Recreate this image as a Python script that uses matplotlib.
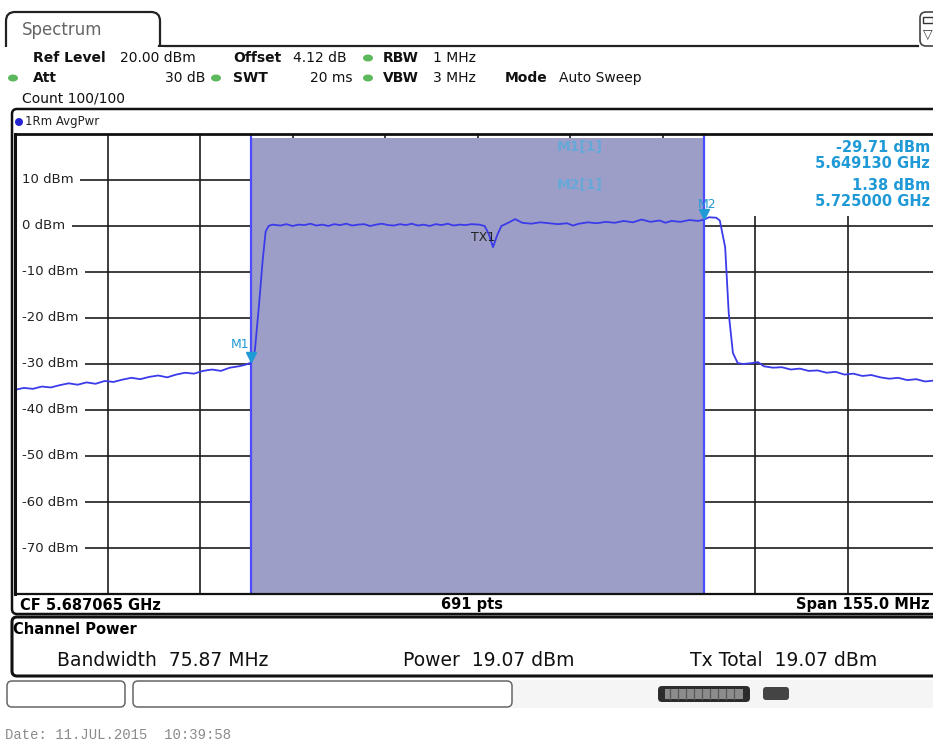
import matplotlib
matplotlib.use("Agg")
import matplotlib.pyplot as plt
import matplotlib.transforms as mtransforms
from matplotlib.patches import FancyBboxPatch, Rectangle, Ellipse
import numpy as np

# ---------------- data ----------------
CF_GHZ = 5.687065
SPAN_MHZ = 155.0
REF_LEVEL = 20.0
BOTTOM_LEVEL = -80.0
level_ticks = [10, 0, -10, -20, -30, -40, -50, -60, -70]
level_labels = ["10 dBm", "0 dBm", "-10 dBm", "-20 dBm", "-30 dBm",
                "-40 dBm", "-50 dBm", "-60 dBm", "-70 dBm"]

# trace: offset from CF in MHz, level in dBm
trace_offset_mhz = [
    -77.5, -76.0, -74.5, -73.0, -71.5, -70.0, -68.5, -67.0, -65.5, -64.0,
    -62.5, -61.0, -59.5, -58.0, -56.5, -55.0, -53.5, -52.0, -50.5, -49.0,
    -47.5, -46.0, -44.5, -43.0, -41.5, -40.0, -39.0, -37.94,
    -37.3, -36.6, -36.0, -35.5, -35.0, -34.4,
    -33.0, -32.0, -31.0, -30.0, -29.0, -28.0, -27.0, -26.0, -25.0, -24.0,
    -23.0, -22.0, -21.0, -20.0, -19.0, -18.0, -17.0, -16.0, -15.0, -14.0,
    -13.0, -12.0, -11.0, -10.0, -9.0, -8.0, -7.0, -6.0, -5.0, -4.0,
    -3.0, -2.0, -1.0, 0.3, 1.2, 1.9, 2.6, 3.3, 4.0, 5.0, 6.3,
    7.5, 9.0, 10.5, 12.0, 13.5, 15.0, 16.0, 17.0, 18.5, 20.0,
    21.5, 23.0, 24.5, 26.0, 27.5, 29.0, 30.5, 31.5, 32.5, 34.0,
    35.5, 37.0, 37.94, 38.8, 40.0, 40.6, 41.5, 42.1, 42.8, 43.6,
    44.5, 46.0, 47.0, 48.0, 49.5, 51.0, 52.5, 54.0, 55.5, 57.0,
    58.5, 60.0, 61.5, 63.0, 64.5, 66.0, 67.5, 69.0, 70.5, 72.0,
    73.5, 75.0, 76.5, 77.5]
trace_dbm = [
    -35.6, -35.2, -35.4, -34.9, -35.1, -34.6, -34.2, -34.5, -34.0, -34.3,
    -33.7, -33.9, -33.4, -33.0, -33.3, -32.8, -32.5, -32.9, -32.3, -31.9,
    -32.1, -31.5, -31.2, -31.5, -30.8, -30.5, -30.2, -29.71,
    -27.0, -17.0, -7.5, -1.2, 0.0, 0.3,
    0.1, 0.4, 0.0, 0.3, 0.2, 0.5, 0.1, 0.3, 0.0, 0.4,
    0.2, 0.5, 0.1, 0.3, 0.4, 0.0, 0.3, 0.5, 0.2, 0.1,
    0.4, 0.2, 0.5, 0.1, 0.3, 0.0, 0.4, 0.2, 0.5, 0.1,
    0.3, 0.2, 0.4, 0.3, 0.0, -1.8, -4.6, -2.0, 0.0, 0.6, 1.5,
    0.7, 0.5, 0.8, 0.6, 0.4, 0.6, 0.1, 0.5, 0.8, 0.6,
    0.9, 0.7, 1.1, 0.8, 1.4, 0.9, 1.2, 0.7, 1.1, 0.9,
    1.3, 1.1, 1.38, 1.9, 1.8, 1.2, -4.6, -19.0, -27.6, -29.8,
    -30.0, -29.8, -29.6, -30.5, -30.8, -30.7, -31.2, -31.0, -31.5, -31.4,
    -31.9, -31.7, -32.3, -32.1, -32.6, -32.4, -32.9, -33.2, -33.0, -33.5,
    -33.3, -33.8, -33.6, -34.0]

marker_names = ["M1", "M2"]
marker_freq_ghz = [5.649130, 5.725000]
marker_level_dbm = [-29.71, 1.38]
marker_texts = ["-29.71 dBm", "5.649130 GHz", "1.38 dBm", "5.725000 GHz"]
chan_bw_mhz = 75.87

header_row1 = [("Ref Level", True), ("20.00 dBm", False), ("Offset", True),
               ("4.12 dB", False), ("RBW", True), ("1 MHz", False)]
header_row2 = [("Att", True), ("30 dB", False), ("SWT", True), ("20 ms", False),
               ("VBW", True), ("3 MHz", False), ("Mode", True), ("Auto Sweep", False)]
channel_results = ["Bandwidth  75.87 MHz", "Power  19.07 dBm", "Tx Total  19.07 dBm"]

# ---------------- style ----------------
W, H = 933, 743
SHADE = "#9c9ec8"
TRACE = "#3b3bea"
EDGE = "#4b4bff"
CYAN = "#1f9ad6"
GRID = "#1c1c1c"
GREEN = "#5cb85c"

fig = plt.figure(figsize=(W / 100, H / 100), dpi=100)
fig.patch.set_facecolor("white")

def pix_axes(z):
    a = fig.add_axes([0, 0, 1, 1], zorder=z)
    a.set_xlim(0, W)
    a.set_ylim(H, 0)
    a.axis("off")
    a.patch.set_alpha(0)
    return a

bg = pix_axes(0)
fg = pix_axes(3)

# ----- spectrum axes -----
PL, PT, PB, PW = 15, 134, 594, 925
ax = fig.add_axes([PL / W, (H - PB) / H, PW / W, (PB - PT) / H], zorder=1)
f0 = CF_GHZ - SPAN_MHZ / 2000
f1 = CF_GHZ + SPAN_MHZ / 2000
ax.set_xlim(f0, f1)
ax.set_ylim(BOTTOM_LEVEL, REF_LEVEL)
ax.set_xticks([])
ax.set_yticks([])
for s in ["left", "top", "bottom"]:
    ax.spines[s].set_color("#111111")
    ax.spines[s].set_zorder(10)
ax.spines["left"].set_linewidth(2.2)
ax.spines["top"].set_linewidth(2.0)
ax.spines["bottom"].set_linewidth(1.6)
ax.spines["right"].set_visible(False)

# grid
for i in range(1, 10):
    ax.axvline(f0 + i * SPAN_MHZ / 10 / 1000, color=GRID, lw=1.2, zorder=1)
for lv in level_ticks:
    ax.axhline(lv, color=GRID, lw=1.2, zorder=1)

# channel shading
ch_lo = CF_GHZ - chan_bw_mhz / 2000
ch_hi = CF_GHZ + chan_bw_mhz / 2000
ax.axvspan(ch_lo, ch_hi, ymin=0, ymax=(19.1 - BOTTOM_LEVEL) / (REF_LEVEL - BOTTOM_LEVEL),
           color=SHADE, lw=0, zorder=2)
ax.axvline(ch_lo, color=EDGE, lw=1.6, zorder=3)
ax.axvline(ch_hi, color=EDGE, lw=1.6, zorder=3)

# marker info area (white)
ax.add_patch(Rectangle((ch_hi, 2.2), f1 - ch_hi, REF_LEVEL - 2.2, facecolor="white",
                       edgecolor="none", zorder=2.5))

# level labels
for lv, lab in zip(level_ticks, level_labels):
    ax.annotate(lab, xy=(f0, lv), xytext=(5, 0), textcoords="offset points",
                va="center", ha="left", fontsize=9.5, color="#222222", zorder=6,
                bbox=dict(boxstyle="square,pad=0.5", fc="white", ec="none"))

# trace
tf = [CF_GHZ + o / 1000 for o in trace_offset_mhz]
ax.plot(tf, trace_dbm, color=TRACE, lw=1.3, zorder=4)

# markers
up = ax.transData + mtransforms.ScaledTranslation(0, 4 / 72, fig.dpi_scale_trans)
for name, mf, ml, off in zip(marker_names, marker_freq_ghz, marker_level_dbm,
                             [(-8, 13), (2, 11)]):
    ax.plot([mf], [ml], marker="v", ms=7, color=CYAN, transform=up, zorder=5)
    ax.annotate(name, xy=(mf, ml), xytext=off, textcoords="offset points",
                ha="center", va="center", fontsize=9, color=CYAN, zorder=5)

ax.annotate("TX1", xy=(CF_GHZ + 0.9 / 1000, -2.4), ha="center", va="center",
            fontsize=9, color="#222222", zorder=5)

# ----- frames / header (pixel coords) -----
# tab
bg.add_patch(FancyBboxPatch((6, 12), 154, 44, boxstyle="round,pad=0,rounding_size=9",
                            fc="white", ec="#222222", lw=1.6))
bg.add_patch(Rectangle((4, 47), 160, 14, fc="white", ec="none", zorder=3))
bg.plot([158.8, 918], [46, 46], color="#222222", lw=1.6)
bg.text(22, 30, "Spectrum", fontsize=12, color="#666666", va="center", ha="left")
# right icon
bg.add_patch(FancyBboxPatch((920, 12), 24, 34, boxstyle="round,pad=0,rounding_size=6",
                            fc="white", ec="#444444", lw=1.2))
bg.add_patch(Rectangle((923, 17), 10, 6, fc="white", ec="#333333", lw=1))
bg.text(928, 34, "\u25BD", fontsize=9, color="#333333", ha="center", va="center")

# header rows
x1 = [33, 120, 233, 293, 383, 433]
for (s, b), x in zip(header_row1, x1):
    bg.text(x, 58, s, fontsize=10, fontweight="bold" if b else "normal",
            color="#111111", va="center", ha="left")
x2 = [(33, "left"), (205, "right"), (233, "left"), (352, "right"), (383, "left"),
      (433, "left"), (505, "left"), (559, "left")]
for (s, b), (x, ha) in zip(header_row2, x2):
    bg.text(x, 78, s, fontsize=10, fontweight="bold" if b else "normal",
            color="#111111", va="center", ha=ha)
for (x, y) in [(368, 58), (13, 78), (216, 78), (368, 78)]:
    bg.add_patch(Ellipse((x, y), 10, 7, fc=GREEN, ec="none"))
bg.text(22, 98, "Count 100/100", fontsize=10, color="#111111", va="center")

# main frame
bg.add_patch(FancyBboxPatch((12, 109), 935, 505, boxstyle="round,pad=0,rounding_size=5",
                            fc="white", ec="#111111", lw=1.8))
bg.add_patch(Ellipse((19, 122), 8, 8, fc="#2525d0", ec="none"))
bg.text(25, 122, "1Rm AvgPwr", fontsize=8.5, color="#222222", va="center")

# footer of plot
bg.text(20, 605, "CF 5.687065 GHz", fontsize=10.5, fontweight="bold", va="center")
bg.text(472, 605, "691 pts", fontsize=10.5, fontweight="bold", va="center", ha="center")
bg.text(930, 605, "Span 155.0 MHz", fontsize=10.5, fontweight="bold", va="center", ha="right")

# channel power box
bg.add_patch(FancyBboxPatch((12, 617), 935, 59, boxstyle="round,pad=0,rounding_size=5",
                            fc="white", ec="#111111", lw=2.2))
bg.text(13, 629, "Channel Power", fontsize=10.5, fontweight="bold", va="center")
for s, x in zip(channel_results, [57, 403, 690]):
    bg.text(x, 661, s, fontsize=13.5, va="center", ha="left", color="#111111")

# bottom boxes
bg.add_patch(Rectangle((512, 680), 421, 28, fc="#f5f5f5", ec="none"))
bg.add_patch(FancyBboxPatch((7, 681), 118, 26, boxstyle="round,pad=0,rounding_size=5",
                            fc="white", ec="#666666", lw=1.1))
bg.add_patch(FancyBboxPatch((133, 681), 379, 26, boxstyle="round,pad=0,rounding_size=5",
                            fc="white", ec="#666666", lw=1.1))
bg.add_patch(FancyBboxPatch((658, 686), 92, 16, boxstyle="round,pad=0,rounding_size=4",
                            fc="#2c2c2c", ec="none"))
bg.add_patch(Rectangle((665, 689), 78, 10, fc="#8c8c8c", ec="none"))
for xx in range(670, 742, 8):
    bg.plot([xx, xx], [689, 699], color="#5a5a5a", lw=1)
bg.add_patch(FancyBboxPatch((763, 687), 26, 13, boxstyle="round,pad=0,rounding_size=3",
                            fc="#444444", ec="none"))
bg.text(5, 735, "Date: 11.JUL.2015  10:39:58", fontsize=10, family="Liberation Mono",
        color="#8a8a8a", va="center", ha="left")

# marker readout (foreground)
for s, y in zip(marker_texts, [148, 164, 186, 201]):
    fg.text(930, y, s, fontsize=10.5, fontweight="bold", color=CYAN, ha="right", va="center")
for s, y in zip(["M1[1]", "M2[1]"], [147, 185]):
    fg.text(603, y, s, fontsize=10, fontweight="bold", color="#3ab2e6", alpha=0.55,
            ha="right", va="center")

fig.savefig("out.png", dpi=100)
